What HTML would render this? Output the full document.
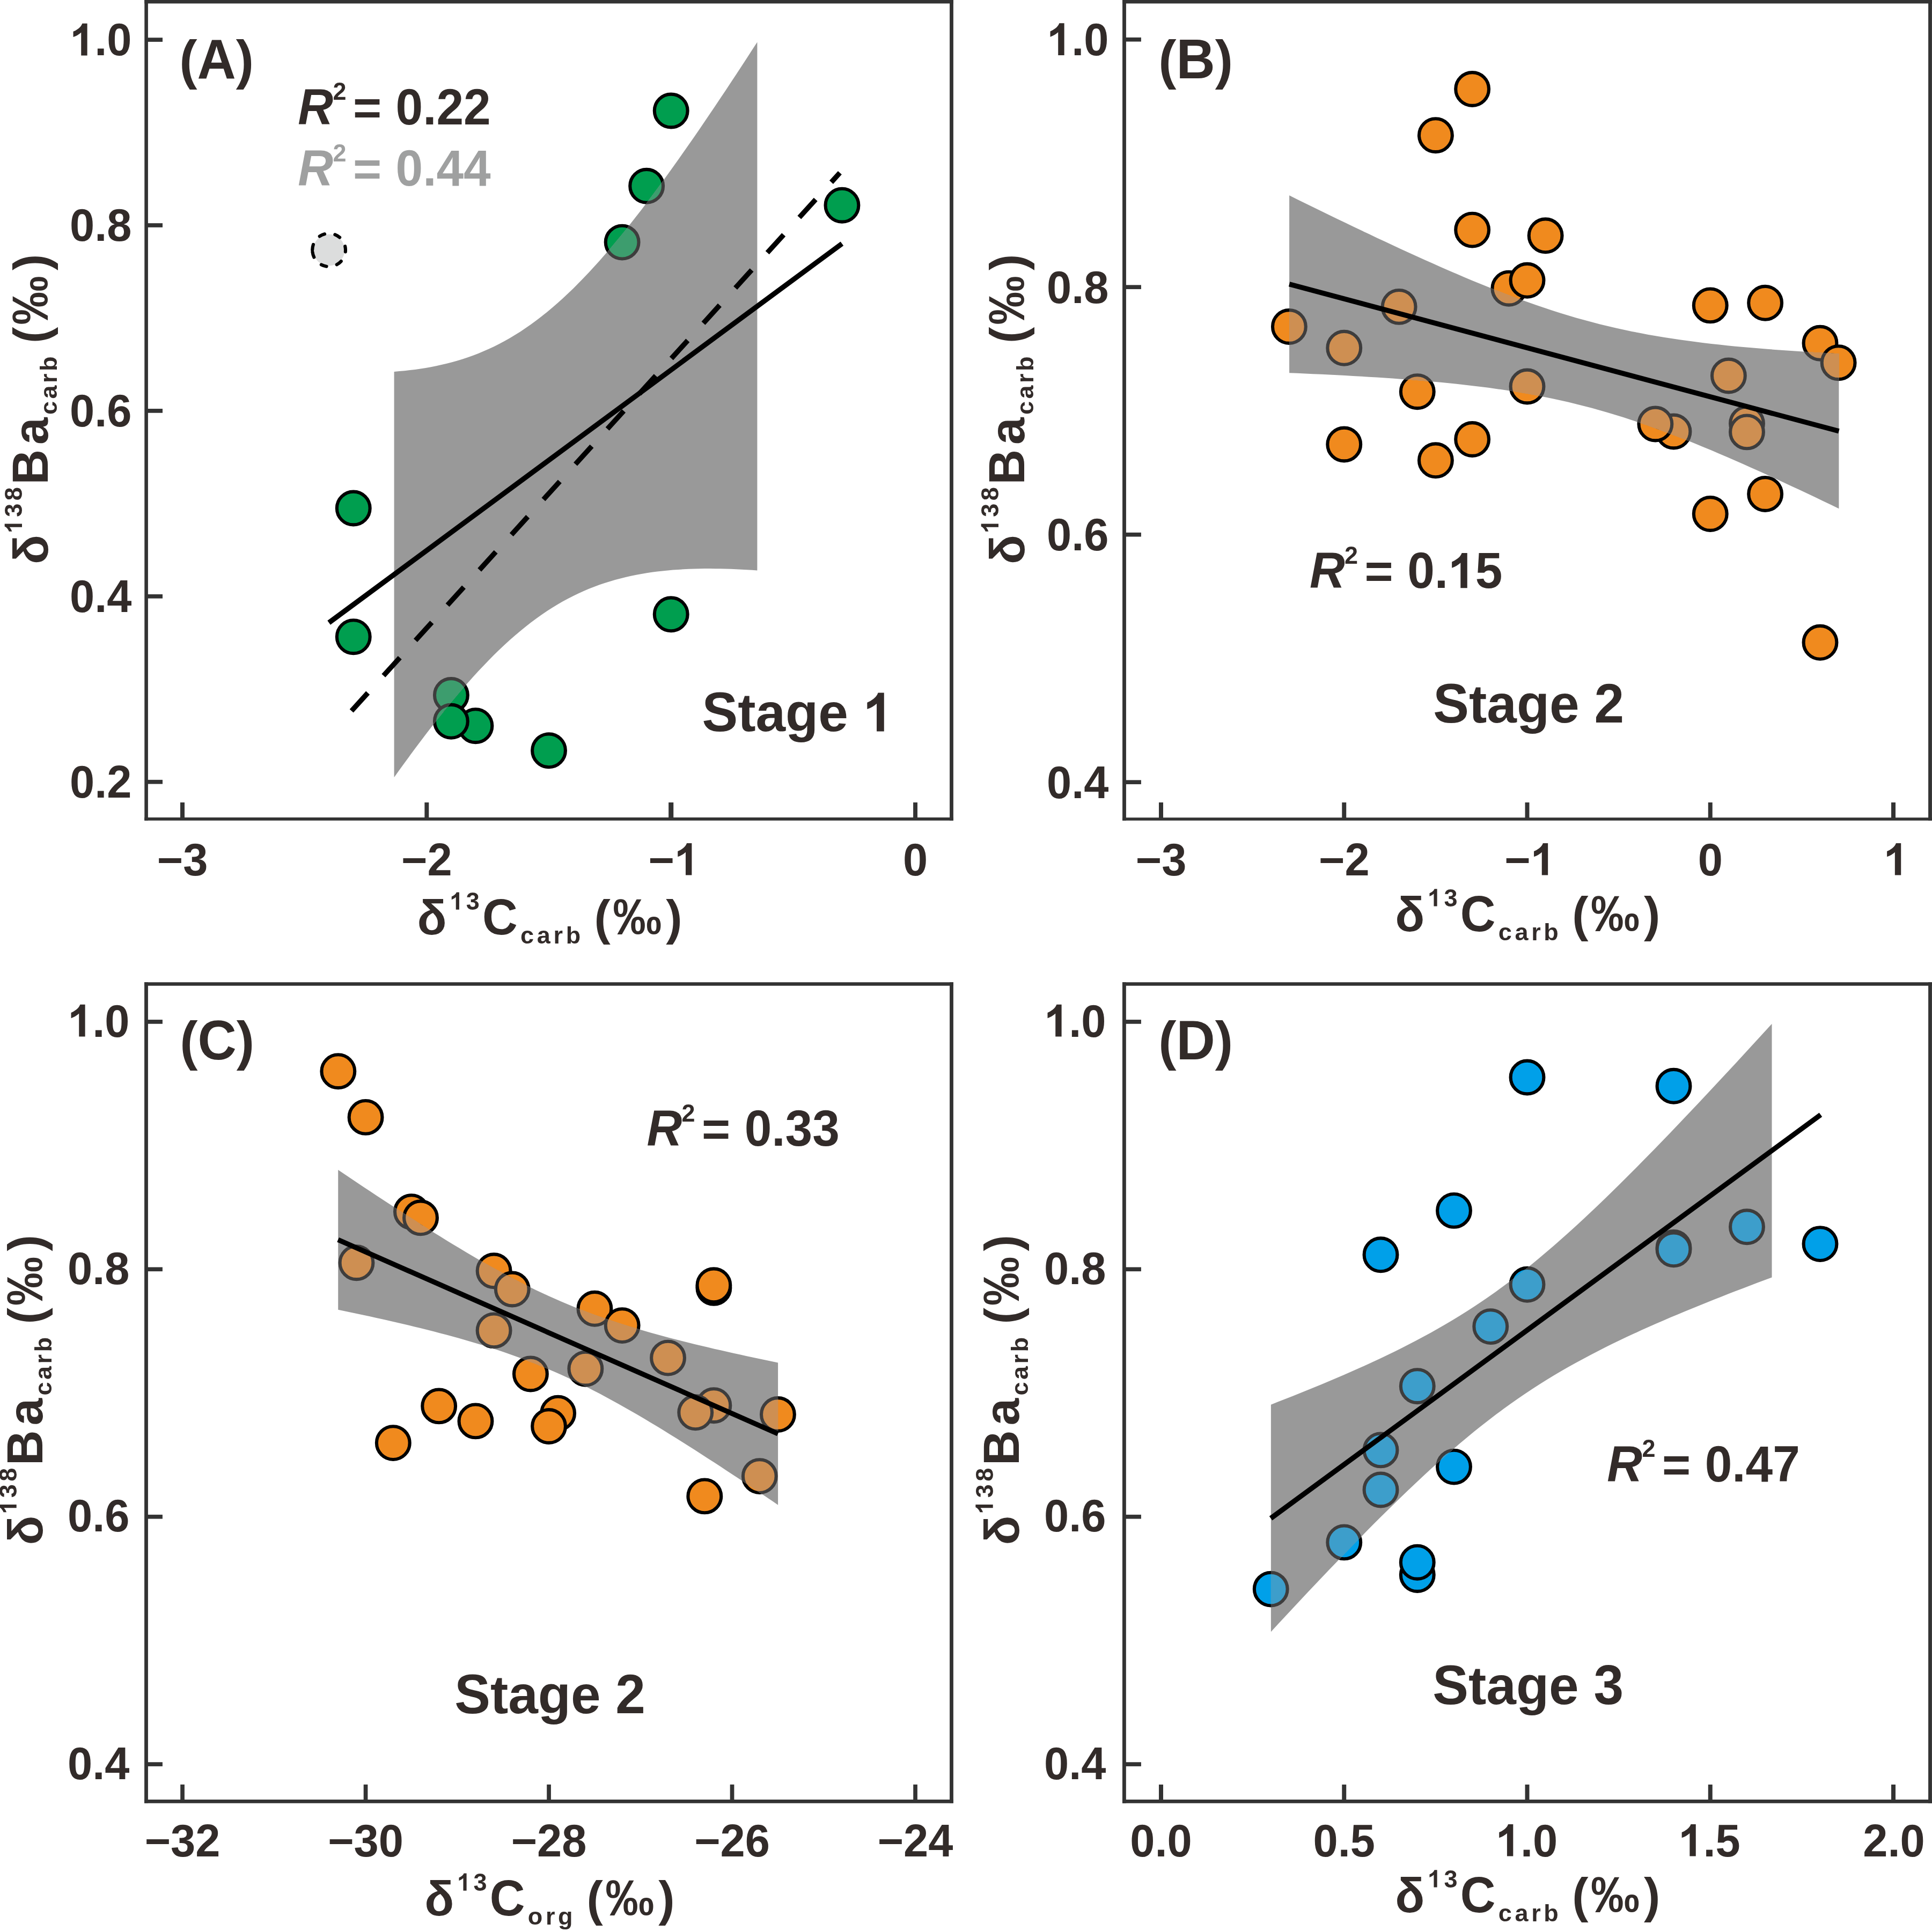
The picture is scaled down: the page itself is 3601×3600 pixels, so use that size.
<!DOCTYPE html>
<html><head><meta charset="utf-8"><title>Figure</title>
<style>
html,body{margin:0;padding:0;background:#ffffff;}
svg{display:block;will-change:transform;}
text{font-family:"Liberation Sans",sans-serif;font-weight:bold;font-kerning:none;}
</style></head><body>
<svg width="3601" height="3600" viewBox="0 0 3601 3600">
<rect width="3601" height="3600" fill="#ffffff"/>
<line x1="340" y1="1526.9" x2="340" y2="1496" stroke="#333333" stroke-width="7.95"/>
<text transform="translate(0 1631.6) scale(1 1.03)" x="341.16" y="0" font-size="83" fill="#322b29">3</text>
<text x="292.68" y="1631.6" font-size="83" fill="#322b29">−</text>
<line x1="795.35" y1="1526.9" x2="795.35" y2="1496" stroke="#333333" stroke-width="7.95"/>
<text transform="translate(0 1631.6) scale(1 1.03)" x="796.51" y="0" font-size="83" fill="#322b29">2</text>
<text x="748.03" y="1631.6" font-size="83" fill="#322b29">−</text>
<line x1="1250.7" y1="1526.9" x2="1250.7" y2="1496" stroke="#333333" stroke-width="9.1"/>
<path transform="translate(1256.86 1631.6) scale(0.04053 -0.04053)" d="M802 0H521V1059Q367 915 158 846V1101Q268 1137 397 1237Q526 1338 574 1472H802Z" fill="#322b29"/>
<text x="1208.38" y="1631.6" font-size="83" fill="#322b29">−</text>
<line x1="1706.05" y1="1526.9" x2="1706.05" y2="1496" stroke="#333333" stroke-width="7.95"/>
<text transform="translate(0 1631.6) scale(1 1.03)" x="1682.97" y="0" font-size="83" fill="#322b29">0</text>
<line x1="272.6" y1="74.1" x2="303" y2="74.1" stroke="#333333" stroke-width="7.7"/>
<path transform="translate(130.12 103.4) scale(0.04053 -0.04053)" d="M802 0H521V1059Q367 915 158 846V1101Q268 1137 397 1237Q526 1338 574 1472H802Z" fill="#322b29"/>
<text transform="translate(0 103.4) scale(1 1.03)" x="199.34" y="0" font-size="83" fill="#322b29">0</text>
<text x="176.28" y="103.4" font-size="83" fill="#322b29">.</text>
<line x1="272.6" y1="420" x2="303" y2="420" stroke="#333333" stroke-width="7.7"/>
<text transform="translate(0 449.3) scale(1 1.03)" x="130.12 199.34" y="0" font-size="83" fill="#322b29">08</text>
<text x="176.28" y="449.3" font-size="83" fill="#322b29">.</text>
<line x1="272.6" y1="765.9" x2="303" y2="765.9" stroke="#333333" stroke-width="7.7"/>
<text transform="translate(0 795.2) scale(1 1.03)" x="130.12 199.34" y="0" font-size="83" fill="#322b29">06</text>
<text x="176.28" y="795.2" font-size="83" fill="#322b29">.</text>
<line x1="272.6" y1="1111.8" x2="303" y2="1111.8" stroke="#333333" stroke-width="7.7"/>
<text transform="translate(0 1141.1) scale(1 1.03)" x="130.12 199.34" y="0" font-size="83" fill="#322b29">04</text>
<text x="176.28" y="1141.1" font-size="83" fill="#322b29">.</text>
<line x1="272.6" y1="1457.7" x2="303" y2="1457.7" stroke="#333333" stroke-width="7.7"/>
<text transform="translate(0 1487) scale(1 1.03)" x="130.12 199.34" y="0" font-size="83" fill="#322b29">02</text>
<text x="176.28" y="1487" font-size="83" fill="#322b29">.</text>
<line x1="272.6" y1="0" x2="272.6" y2="1529.85" stroke="#333333" stroke-width="6.6"/>
<line x1="1773.5" y1="0" x2="1773.5" y2="1529.85" stroke="#333333" stroke-width="6.84"/>
<line x1="269.3" y1="3.3" x2="1776.92" y2="3.3" stroke="#333333" stroke-width="6.6"/>
<line x1="269.3" y1="1526.9" x2="1776.92" y2="1526.9" stroke="#333333" stroke-width="5.9"/>
<g fill="#009e4f" stroke="#000" stroke-width="6.1"><circle cx="1250.7" cy="206.5" r="30.9"/><circle cx="1205.16" cy="346.8" r="30.9"/><circle cx="1159.63" cy="451.6" r="30.9"/><circle cx="1569.44" cy="382.7" r="30.9"/><circle cx="658.74" cy="947.5" r="30.9"/><circle cx="658.74" cy="1187.2" r="30.9"/><circle cx="1250.7" cy="1145.3" r="30.9"/><circle cx="840.88" cy="1296" r="30.9"/><circle cx="886.42" cy="1353.2" r="30.9"/><circle cx="840.88" cy="1344.8" r="30.9"/><circle cx="1023.02" cy="1399.3" r="30.9"/></g>
<path d="M734.6 692.91 L744.41 692.12 L754.22 691.19 L764.03 690.11 L773.83 688.88 L783.64 687.48 L793.45 685.92 L803.26 684.18 L813.07 682.25 L822.88 680.12 L832.69 677.79 L842.5 675.24 L852.3 672.47 L862.11 669.46 L871.92 666.2 L881.73 662.69 L891.54 658.92 L901.35 654.87 L911.16 650.53 L920.97 645.91 L930.77 640.98 L940.58 635.75 L950.39 630.2 L960.2 624.33 L970.01 618.14 L979.82 611.62 L989.63 604.77 L999.43 597.59 L1009.24 590.07 L1019.05 582.22 L1028.86 574.05 L1038.67 565.54 L1048.48 556.72 L1058.29 547.58 L1068.1 538.13 L1077.9 528.37 L1087.71 518.32 L1097.52 507.98 L1107.33 497.37 L1117.14 486.49 L1126.95 475.34 L1136.76 463.95 L1146.57 452.32 L1156.37 440.46 L1166.18 428.38 L1175.99 416.09 L1185.8 403.59 L1195.61 390.91 L1205.42 378.05 L1215.23 365.01 L1225.03 351.8 L1234.84 338.44 L1244.65 324.93 L1254.46 311.28 L1264.27 297.5 L1274.08 283.58 L1283.89 269.55 L1293.7 255.4 L1303.5 241.14 L1313.31 226.77 L1323.12 212.31 L1332.93 197.76 L1342.74 183.11 L1352.55 168.38 L1362.36 153.57 L1372.17 138.69 L1381.97 123.73 L1391.78 108.7 L1401.59 93.61 L1411.4 78.45 L1411.4 1063.47 L1401.59 1062.81 L1391.78 1062.22 L1381.97 1061.69 L1372.17 1061.22 L1362.36 1060.84 L1352.55 1060.52 L1342.74 1060.29 L1332.93 1060.14 L1323.12 1060.08 L1313.31 1060.12 L1303.5 1060.25 L1293.7 1060.49 L1283.89 1060.84 L1274.08 1061.3 L1264.27 1061.88 L1254.46 1062.59 L1244.65 1063.44 L1234.84 1064.43 L1225.03 1065.56 L1215.23 1066.86 L1205.42 1068.32 L1195.61 1069.95 L1185.8 1071.76 L1175.99 1073.77 L1166.18 1075.97 L1156.37 1078.39 L1146.57 1081.03 L1136.76 1083.89 L1126.95 1087 L1117.14 1090.35 L1107.33 1093.96 L1097.52 1097.85 L1087.71 1102.01 L1077.9 1106.45 L1068.1 1111.2 L1058.29 1116.24 L1048.48 1121.6 L1038.67 1127.27 L1028.86 1133.26 L1019.05 1139.58 L1009.24 1146.23 L999.43 1153.22 L989.63 1160.53 L979.82 1168.18 L970.01 1176.15 L960.2 1184.46 L950.39 1193.09 L940.58 1202.04 L930.77 1211.3 L920.97 1220.87 L911.16 1230.74 L901.35 1240.91 L891.54 1251.35 L881.73 1262.08 L871.92 1273.06 L862.11 1284.3 L852.3 1295.79 L842.5 1307.51 L832.69 1319.46 L822.88 1331.63 L813.07 1344 L803.26 1356.56 L793.45 1369.32 L783.64 1382.25 L773.83 1395.36 L764.03 1408.62 L754.22 1422.04 L744.41 1435.61 L734.6 1449.32Z" fill="#999999"/>
<clipPath id="cA"><path d="M734.6 692.91 L744.41 692.12 L754.22 691.19 L764.03 690.11 L773.83 688.88 L783.64 687.48 L793.45 685.92 L803.26 684.18 L813.07 682.25 L822.88 680.12 L832.69 677.79 L842.5 675.24 L852.3 672.47 L862.11 669.46 L871.92 666.2 L881.73 662.69 L891.54 658.92 L901.35 654.87 L911.16 650.53 L920.97 645.91 L930.77 640.98 L940.58 635.75 L950.39 630.2 L960.2 624.33 L970.01 618.14 L979.82 611.62 L989.63 604.77 L999.43 597.59 L1009.24 590.07 L1019.05 582.22 L1028.86 574.05 L1038.67 565.54 L1048.48 556.72 L1058.29 547.58 L1068.1 538.13 L1077.9 528.37 L1087.71 518.32 L1097.52 507.98 L1107.33 497.37 L1117.14 486.49 L1126.95 475.34 L1136.76 463.95 L1146.57 452.32 L1156.37 440.46 L1166.18 428.38 L1175.99 416.09 L1185.8 403.59 L1195.61 390.91 L1205.42 378.05 L1215.23 365.01 L1225.03 351.8 L1234.84 338.44 L1244.65 324.93 L1254.46 311.28 L1264.27 297.5 L1274.08 283.58 L1283.89 269.55 L1293.7 255.4 L1303.5 241.14 L1313.31 226.77 L1323.12 212.31 L1332.93 197.76 L1342.74 183.11 L1352.55 168.38 L1362.36 153.57 L1372.17 138.69 L1381.97 123.73 L1391.78 108.7 L1401.59 93.61 L1411.4 78.45 L1411.4 1063.47 L1401.59 1062.81 L1391.78 1062.22 L1381.97 1061.69 L1372.17 1061.22 L1362.36 1060.84 L1352.55 1060.52 L1342.74 1060.29 L1332.93 1060.14 L1323.12 1060.08 L1313.31 1060.12 L1303.5 1060.25 L1293.7 1060.49 L1283.89 1060.84 L1274.08 1061.3 L1264.27 1061.88 L1254.46 1062.59 L1244.65 1063.44 L1234.84 1064.43 L1225.03 1065.56 L1215.23 1066.86 L1205.42 1068.32 L1195.61 1069.95 L1185.8 1071.76 L1175.99 1073.77 L1166.18 1075.97 L1156.37 1078.39 L1146.57 1081.03 L1136.76 1083.89 L1126.95 1087 L1117.14 1090.35 L1107.33 1093.96 L1097.52 1097.85 L1087.71 1102.01 L1077.9 1106.45 L1068.1 1111.2 L1058.29 1116.24 L1048.48 1121.6 L1038.67 1127.27 L1028.86 1133.26 L1019.05 1139.58 L1009.24 1146.23 L999.43 1153.22 L989.63 1160.53 L979.82 1168.18 L970.01 1176.15 L960.2 1184.46 L950.39 1193.09 L940.58 1202.04 L930.77 1211.3 L920.97 1220.87 L911.16 1230.74 L901.35 1240.91 L891.54 1251.35 L881.73 1262.08 L871.92 1273.06 L862.11 1284.3 L852.3 1295.79 L842.5 1307.51 L832.69 1319.46 L822.88 1331.63 L813.07 1344 L803.26 1356.56 L793.45 1369.32 L783.64 1382.25 L773.83 1395.36 L764.03 1408.62 L754.22 1422.04 L744.41 1435.61 L734.6 1449.32Z"/></clipPath>
<g clip-path="url(#cA)" fill="#3d9d6e" stroke="#3e3d3d" stroke-width="6.1"><circle cx="1250.7" cy="206.5" r="30.9"/><circle cx="1205.16" cy="346.8" r="30.9"/><circle cx="1159.63" cy="451.6" r="30.9"/><circle cx="1569.44" cy="382.7" r="30.9"/><circle cx="658.74" cy="947.5" r="30.9"/><circle cx="658.74" cy="1187.2" r="30.9"/><circle cx="1250.7" cy="1145.3" r="30.9"/><circle cx="840.88" cy="1296" r="30.9"/><circle cx="886.42" cy="1353.2" r="30.9"/><circle cx="840.88" cy="1344.8" r="30.9"/><circle cx="1023.02" cy="1399.3" r="30.9"/></g>
<line x1="613.1" y1="1160.9" x2="1569.4" y2="454.2" stroke="#000" stroke-width="9.4"/>
<line x1="655.2" y1="1325.3" x2="1565.4" y2="322.2" stroke="#000" stroke-width="9.4" stroke-dasharray="45.3 43.42"/>
<circle cx="613.1" cy="466.1" r="29.4" fill="#dcdddd"/>
<path d="M582.2 466.1 A30.9 30.9 0 1 1 644 466.1 A30.9 30.9 0 1 1 582.2 466.1" fill="none" stroke="#000" stroke-width="6.1" stroke-linecap="round" stroke-dasharray="10.3 19.68"/>
<line x1="2164" y1="1527" x2="2164" y2="1496" stroke="#333333" stroke-width="7.95"/>
<text transform="translate(0 1631.6) scale(1 1.03)" x="2165.16" y="0" font-size="83" fill="#322b29">3</text>
<text x="2116.68" y="1631.6" font-size="83" fill="#322b29">−</text>
<line x1="2505.25" y1="1527" x2="2505.25" y2="1496" stroke="#333333" stroke-width="7.95"/>
<text transform="translate(0 1631.6) scale(1 1.03)" x="2506.41" y="0" font-size="83" fill="#322b29">2</text>
<text x="2457.93" y="1631.6" font-size="83" fill="#322b29">−</text>
<line x1="2846.5" y1="1527" x2="2846.5" y2="1496" stroke="#333333" stroke-width="7.95"/>
<path transform="translate(2852.66 1631.6) scale(0.04053 -0.04053)" d="M802 0H521V1059Q367 915 158 846V1101Q268 1137 397 1237Q526 1338 574 1472H802Z" fill="#322b29"/>
<text x="2804.18" y="1631.6" font-size="83" fill="#322b29">−</text>
<line x1="3187.75" y1="1527" x2="3187.75" y2="1496" stroke="#333333" stroke-width="7.95"/>
<text transform="translate(0 1631.6) scale(1 1.03)" x="3164.87" y="0" font-size="83" fill="#322b29">0</text>
<line x1="3529" y1="1527" x2="3529" y2="1496" stroke="#333333" stroke-width="7.95"/>
<path transform="translate(3510.72 1631.6) scale(0.04053 -0.04053)" d="M802 0H521V1059Q367 915 158 846V1101Q268 1137 397 1237Q526 1338 574 1472H802Z" fill="#322b29"/>
<line x1="2095.5" y1="73.7" x2="2126.9" y2="73.7" stroke="#333333" stroke-width="7.7"/>
<path transform="translate(1951.12 103) scale(0.04053 -0.04053)" d="M802 0H521V1059Q367 915 158 846V1101Q268 1137 397 1237Q526 1338 574 1472H802Z" fill="#322b29"/>
<text transform="translate(0 103) scale(1 1.03)" x="2020.34" y="0" font-size="83" fill="#322b29">0</text>
<text x="1997.28" y="103" font-size="83" fill="#322b29">.</text>
<line x1="2095.5" y1="535.2" x2="2126.9" y2="535.2" stroke="#333333" stroke-width="7.7"/>
<text transform="translate(0 564.5) scale(1 1.03)" x="1951.12 2020.34" y="0" font-size="83" fill="#322b29">08</text>
<text x="1997.28" y="564.5" font-size="83" fill="#322b29">.</text>
<line x1="2095.5" y1="996.7" x2="2126.9" y2="996.7" stroke="#333333" stroke-width="7.7"/>
<text transform="translate(0 1026) scale(1 1.03)" x="1951.12 2020.34" y="0" font-size="83" fill="#322b29">06</text>
<text x="1997.28" y="1026" font-size="83" fill="#322b29">.</text>
<line x1="2095.5" y1="1458.2" x2="2126.9" y2="1458.2" stroke="#333333" stroke-width="7.7"/>
<text transform="translate(0 1487.5) scale(1 1.03)" x="1951.12 2020.34" y="0" font-size="83" fill="#322b29">04</text>
<text x="1997.28" y="1487.5" font-size="83" fill="#322b29">.</text>
<line x1="2095.5" y1="0" x2="2095.5" y2="1529.85" stroke="#333333" stroke-width="6.84"/>
<line x1="3597.5" y1="0" x2="3597.5" y2="1529.85" stroke="#333333" stroke-width="6.84"/>
<line x1="2092.08" y1="3.3" x2="3600.92" y2="3.3" stroke="#333333" stroke-width="6.6"/>
<line x1="2092.08" y1="1527" x2="3600.92" y2="1527" stroke="#333333" stroke-width="5.7"/>
<g fill="#f08a1e" stroke="#000" stroke-width="6.1"><circle cx="2744.12" cy="166" r="30.9"/><circle cx="2675.88" cy="252.2" r="30.9"/><circle cx="2744.12" cy="428.6" r="30.9"/><circle cx="2880.62" cy="439.3" r="30.9"/><circle cx="2812.38" cy="537.7" r="30.9"/><circle cx="2846.5" cy="522.8" r="30.9"/><circle cx="3187.75" cy="569.4" r="30.9"/><circle cx="3290.12" cy="564.8" r="30.9"/><circle cx="3392.5" cy="639.8" r="30.9"/><circle cx="3426.62" cy="676.2" r="30.9"/><circle cx="3221.88" cy="700.5" r="30.9"/><circle cx="2846.5" cy="720.5" r="30.9"/><circle cx="3119.5" cy="804.5" r="30.9"/><circle cx="3085.38" cy="790.5" r="30.9"/><circle cx="3256" cy="789.5" r="30.9"/><circle cx="3256" cy="805.4" r="30.9"/><circle cx="2744.12" cy="819" r="30.9"/><circle cx="2675.88" cy="858.3" r="30.9"/><circle cx="2402.88" cy="609" r="30.9"/><circle cx="2505.25" cy="648.8" r="30.9"/><circle cx="2607.62" cy="571.9" r="30.9"/><circle cx="2641.75" cy="730.2" r="30.9"/><circle cx="2505.25" cy="828.5" r="30.9"/><circle cx="3187.75" cy="958" r="30.9"/><circle cx="3290.12" cy="921" r="30.9"/><circle cx="3392.5" cy="1197.8" r="30.9"/></g>
<path d="M2403.1 364.37 L2417.94 371.68 L2432.79 378.98 L2447.63 386.26 L2462.48 393.5 L2477.32 400.73 L2492.17 407.92 L2507.01 415.08 L2521.86 422.21 L2536.7 429.31 L2551.55 436.36 L2566.39 443.38 L2581.24 450.35 L2596.08 457.28 L2610.93 464.16 L2625.77 470.99 L2640.62 477.75 L2655.46 484.46 L2670.31 491.1 L2685.15 497.67 L2700 504.17 L2714.84 510.58 L2729.69 516.91 L2744.53 523.14 L2759.38 529.27 L2774.22 535.29 L2789.07 541.2 L2803.91 546.99 L2818.76 552.64 L2833.6 558.16 L2848.45 563.54 L2863.29 568.76 L2878.14 573.83 L2892.98 578.73 L2907.83 583.46 L2922.67 588.01 L2937.52 592.38 L2952.36 596.57 L2967.21 600.58 L2982.05 604.41 L2996.9 608.05 L3011.74 611.51 L3026.59 614.79 L3041.43 617.9 L3056.28 620.85 L3071.12 623.63 L3085.97 626.26 L3100.81 628.73 L3115.66 631.07 L3130.5 633.28 L3145.35 635.36 L3160.19 637.33 L3175.04 639.18 L3189.88 640.93 L3204.73 642.58 L3219.57 644.15 L3234.42 645.63 L3249.26 647.03 L3264.11 648.36 L3278.95 649.62 L3293.8 650.82 L3308.64 651.95 L3323.49 653.04 L3338.33 654.07 L3353.18 655.06 L3368.02 656 L3382.87 656.9 L3397.71 657.76 L3412.56 658.59 L3427.4 659.38 L3427.4 948.22 L3412.56 941.07 L3397.71 933.95 L3382.87 926.87 L3368.02 919.83 L3353.18 912.83 L3338.33 905.88 L3323.49 898.97 L3308.64 892.11 L3293.8 885.31 L3278.95 878.56 L3264.11 871.88 L3249.26 865.27 L3234.42 858.73 L3219.57 852.26 L3204.73 845.89 L3189.88 839.6 L3175.04 833.41 L3160.19 827.32 L3145.35 821.34 L3130.5 815.48 L3115.66 809.74 L3100.81 804.14 L3085.97 798.68 L3071.12 793.36 L3056.28 788.2 L3041.43 783.2 L3026.59 778.37 L3011.74 773.71 L2996.9 769.23 L2982.05 764.93 L2967.21 760.81 L2952.36 756.88 L2937.52 753.13 L2922.67 749.56 L2907.83 746.17 L2892.98 742.96 L2878.14 739.92 L2863.29 737.04 L2848.45 734.32 L2833.6 731.75 L2818.76 729.33 L2803.91 727.05 L2789.07 724.89 L2774.22 722.86 L2759.38 720.94 L2744.53 719.13 L2729.69 717.42 L2714.84 715.8 L2700 714.27 L2685.15 712.82 L2670.31 711.45 L2655.46 710.15 L2640.62 708.92 L2625.77 707.74 L2610.93 706.63 L2596.08 705.56 L2581.24 704.55 L2566.39 703.58 L2551.55 702.66 L2536.7 701.77 L2521.86 700.93 L2507.01 700.11 L2492.17 699.33 L2477.32 698.58 L2462.48 697.86 L2447.63 697.17 L2432.79 696.5 L2417.94 695.86 L2403.1 695.23Z" fill="#999999"/>
<clipPath id="cB"><path d="M2403.1 364.37 L2417.94 371.68 L2432.79 378.98 L2447.63 386.26 L2462.48 393.5 L2477.32 400.73 L2492.17 407.92 L2507.01 415.08 L2521.86 422.21 L2536.7 429.31 L2551.55 436.36 L2566.39 443.38 L2581.24 450.35 L2596.08 457.28 L2610.93 464.16 L2625.77 470.99 L2640.62 477.75 L2655.46 484.46 L2670.31 491.1 L2685.15 497.67 L2700 504.17 L2714.84 510.58 L2729.69 516.91 L2744.53 523.14 L2759.38 529.27 L2774.22 535.29 L2789.07 541.2 L2803.91 546.99 L2818.76 552.64 L2833.6 558.16 L2848.45 563.54 L2863.29 568.76 L2878.14 573.83 L2892.98 578.73 L2907.83 583.46 L2922.67 588.01 L2937.52 592.38 L2952.36 596.57 L2967.21 600.58 L2982.05 604.41 L2996.9 608.05 L3011.74 611.51 L3026.59 614.79 L3041.43 617.9 L3056.28 620.85 L3071.12 623.63 L3085.97 626.26 L3100.81 628.73 L3115.66 631.07 L3130.5 633.28 L3145.35 635.36 L3160.19 637.33 L3175.04 639.18 L3189.88 640.93 L3204.73 642.58 L3219.57 644.15 L3234.42 645.63 L3249.26 647.03 L3264.11 648.36 L3278.95 649.62 L3293.8 650.82 L3308.64 651.95 L3323.49 653.04 L3338.33 654.07 L3353.18 655.06 L3368.02 656 L3382.87 656.9 L3397.71 657.76 L3412.56 658.59 L3427.4 659.38 L3427.4 948.22 L3412.56 941.07 L3397.71 933.95 L3382.87 926.87 L3368.02 919.83 L3353.18 912.83 L3338.33 905.88 L3323.49 898.97 L3308.64 892.11 L3293.8 885.31 L3278.95 878.56 L3264.11 871.88 L3249.26 865.27 L3234.42 858.73 L3219.57 852.26 L3204.73 845.89 L3189.88 839.6 L3175.04 833.41 L3160.19 827.32 L3145.35 821.34 L3130.5 815.48 L3115.66 809.74 L3100.81 804.14 L3085.97 798.68 L3071.12 793.36 L3056.28 788.2 L3041.43 783.2 L3026.59 778.37 L3011.74 773.71 L2996.9 769.23 L2982.05 764.93 L2967.21 760.81 L2952.36 756.88 L2937.52 753.13 L2922.67 749.56 L2907.83 746.17 L2892.98 742.96 L2878.14 739.92 L2863.29 737.04 L2848.45 734.32 L2833.6 731.75 L2818.76 729.33 L2803.91 727.05 L2789.07 724.89 L2774.22 722.86 L2759.38 720.94 L2744.53 719.13 L2729.69 717.42 L2714.84 715.8 L2700 714.27 L2685.15 712.82 L2670.31 711.45 L2655.46 710.15 L2640.62 708.92 L2625.77 707.74 L2610.93 706.63 L2596.08 705.56 L2581.24 704.55 L2566.39 703.58 L2551.55 702.66 L2536.7 701.77 L2521.86 700.93 L2507.01 700.11 L2492.17 699.33 L2477.32 698.58 L2462.48 697.86 L2447.63 697.17 L2432.79 696.5 L2417.94 695.86 L2403.1 695.23Z"/></clipPath>
<g clip-path="url(#cB)" fill="#ce8f52" stroke="#3e3d3d" stroke-width="6.1"><circle cx="2744.12" cy="166" r="30.9"/><circle cx="2675.88" cy="252.2" r="30.9"/><circle cx="2744.12" cy="428.6" r="30.9"/><circle cx="2880.62" cy="439.3" r="30.9"/><circle cx="2812.38" cy="537.7" r="30.9"/><circle cx="2846.5" cy="522.8" r="30.9"/><circle cx="3187.75" cy="569.4" r="30.9"/><circle cx="3290.12" cy="564.8" r="30.9"/><circle cx="3392.5" cy="639.8" r="30.9"/><circle cx="3426.62" cy="676.2" r="30.9"/><circle cx="3221.88" cy="700.5" r="30.9"/><circle cx="2846.5" cy="720.5" r="30.9"/><circle cx="3119.5" cy="804.5" r="30.9"/><circle cx="3085.38" cy="790.5" r="30.9"/><circle cx="3256" cy="789.5" r="30.9"/><circle cx="3256" cy="805.4" r="30.9"/><circle cx="2744.12" cy="819" r="30.9"/><circle cx="2675.88" cy="858.3" r="30.9"/><circle cx="2402.88" cy="609" r="30.9"/><circle cx="2505.25" cy="648.8" r="30.9"/><circle cx="2607.62" cy="571.9" r="30.9"/><circle cx="2641.75" cy="730.2" r="30.9"/><circle cx="2505.25" cy="828.5" r="30.9"/><circle cx="3187.75" cy="958" r="30.9"/><circle cx="3290.12" cy="921" r="30.9"/><circle cx="3392.5" cy="1197.8" r="30.9"/></g>
<line x1="2403.1" y1="529.8" x2="3427.4" y2="803.8" stroke="#000" stroke-width="9.4"/>
<line x1="340.05" y1="3358.3" x2="340.05" y2="3326.9" stroke="#333333" stroke-width="7.7"/>
<text transform="translate(0 3460.6) scale(1 1.03)" x="318.12 364.29" y="0" font-size="83" fill="#322b29">32</text>
<text x="269.65" y="3460.6" font-size="83" fill="#322b29">−</text>
<line x1="681.55" y1="3358.3" x2="681.55" y2="3326.9" stroke="#333333" stroke-width="7.7"/>
<text transform="translate(0 3460.6) scale(1 1.03)" x="659.62 705.79" y="0" font-size="83" fill="#322b29">30</text>
<text x="611.15" y="3460.6" font-size="83" fill="#322b29">−</text>
<line x1="1023.05" y1="3358.3" x2="1023.05" y2="3326.9" stroke="#333333" stroke-width="7.7"/>
<text transform="translate(0 3460.6) scale(1 1.03)" x="1001.12 1047.29" y="0" font-size="83" fill="#322b29">28</text>
<text x="952.65" y="3460.6" font-size="83" fill="#322b29">−</text>
<line x1="1364.55" y1="3358.3" x2="1364.55" y2="3326.9" stroke="#333333" stroke-width="7.7"/>
<text transform="translate(0 3460.6) scale(1 1.03)" x="1342.62 1388.79" y="0" font-size="83" fill="#322b29">26</text>
<text x="1294.15" y="3460.6" font-size="83" fill="#322b29">−</text>
<line x1="1706.05" y1="3358.3" x2="1706.05" y2="3326.9" stroke="#333333" stroke-width="7.7"/>
<text transform="translate(0 3460.6) scale(1 1.03)" x="1684.12 1730.29" y="0" font-size="83" fill="#322b29">24</text>
<text x="1635.65" y="3460.6" font-size="83" fill="#322b29">−</text>
<line x1="272.5" y1="1904.9" x2="302.9" y2="1904.9" stroke="#333333" stroke-width="7.7"/>
<path transform="translate(126.12 1932.5) scale(0.04053 -0.04053)" d="M802 0H521V1059Q367 915 158 846V1101Q268 1137 397 1237Q526 1338 574 1472H802Z" fill="#322b29"/>
<text transform="translate(0 1932.5) scale(1 1.03)" x="195.34" y="0" font-size="83" fill="#322b29">0</text>
<text x="172.28" y="1932.5" font-size="83" fill="#322b29">.</text>
<line x1="272.5" y1="2366.3" x2="302.9" y2="2366.3" stroke="#333333" stroke-width="7.7"/>
<text transform="translate(0 2393.9) scale(1 1.03)" x="126.12 195.34" y="0" font-size="83" fill="#322b29">08</text>
<text x="172.28" y="2393.9" font-size="83" fill="#322b29">.</text>
<line x1="272.5" y1="2827.7" x2="302.9" y2="2827.7" stroke="#333333" stroke-width="7.7"/>
<text transform="translate(0 2855.3) scale(1 1.03)" x="126.12 195.34" y="0" font-size="83" fill="#322b29">06</text>
<text x="172.28" y="2855.3" font-size="83" fill="#322b29">.</text>
<line x1="272.5" y1="3289.1" x2="302.9" y2="3289.1" stroke="#333333" stroke-width="7.7"/>
<text transform="translate(0 3316.7) scale(1 1.03)" x="126.12 195.34" y="0" font-size="83" fill="#322b29">04</text>
<text x="172.28" y="3316.7" font-size="83" fill="#322b29">.</text>
<line x1="272.5" y1="1831.15" x2="272.5" y2="3361.62" stroke="#333333" stroke-width="6.84"/>
<line x1="1773.5" y1="1831.15" x2="1773.5" y2="3361.62" stroke="#333333" stroke-width="6.84"/>
<line x1="269.08" y1="1834.4" x2="1776.92" y2="1834.4" stroke="#333333" stroke-width="6.5"/>
<line x1="269.08" y1="3358.3" x2="1776.92" y2="3358.3" stroke="#333333" stroke-width="6.65"/>
<g fill="#f08a1e" stroke="#000" stroke-width="6.1"><circle cx="630.32" cy="1997.2" r="30.9"/><circle cx="681.55" cy="2082.9" r="30.9"/><circle cx="766.92" cy="2259.1" r="30.9"/><circle cx="784" cy="2270.3" r="30.9"/><circle cx="664.47" cy="2354.2" r="30.9"/><circle cx="818.15" cy="2621.4" r="30.9"/><circle cx="886.45" cy="2649.4" r="30.9"/><circle cx="732.78" cy="2690.1" r="30.9"/><circle cx="920.6" cy="2369.3" r="30.9"/><circle cx="954.75" cy="2403.5" r="30.9"/><circle cx="1108.42" cy="2439.8" r="30.9"/><circle cx="1159.65" cy="2471.1" r="30.9"/><circle cx="1330.4" cy="2400.9" r="30.9"/><circle cx="1330.4" cy="2396.3" r="30.9"/><circle cx="920.6" cy="2480.4" r="30.9"/><circle cx="1245.03" cy="2531.6" r="30.9"/><circle cx="1091.35" cy="2551.7" r="30.9"/><circle cx="988.9" cy="2561.5" r="30.9"/><circle cx="1330.4" cy="2620.2" r="30.9"/><circle cx="1296.25" cy="2633.3" r="30.9"/><circle cx="1449.92" cy="2637" r="30.9"/><circle cx="1040.13" cy="2634.7" r="30.9"/><circle cx="1023.05" cy="2659" r="30.9"/><circle cx="1313.32" cy="2789.4" r="30.9"/><circle cx="1415.78" cy="2752.1" r="30.9"/></g>
<path d="M630.2 2181.01 L642.08 2189.01 L653.97 2197 L665.85 2204.95 L677.73 2212.88 L689.61 2220.78 L701.5 2228.65 L713.38 2236.49 L725.26 2244.29 L737.14 2252.05 L749.03 2259.77 L760.91 2267.45 L772.79 2275.08 L784.67 2282.66 L796.56 2290.18 L808.44 2297.65 L820.32 2305.06 L832.2 2312.39 L844.09 2319.66 L855.97 2326.84 L867.85 2333.95 L879.73 2340.96 L891.62 2347.88 L903.5 2354.7 L915.38 2361.41 L927.27 2368.01 L939.15 2374.49 L951.03 2380.84 L962.91 2387.06 L974.8 2393.14 L986.68 2399.08 L998.56 2404.88 L1010.44 2410.52 L1022.33 2416.01 L1034.21 2421.34 L1046.09 2426.52 L1057.97 2431.55 L1069.86 2436.42 L1081.74 2441.14 L1093.62 2445.71 L1105.5 2450.14 L1117.39 2454.43 L1129.27 2458.58 L1141.15 2462.61 L1153.03 2466.52 L1164.92 2470.32 L1176.8 2474 L1188.68 2477.58 L1200.57 2481.07 L1212.45 2484.47 L1224.33 2487.78 L1236.21 2491.01 L1248.1 2494.17 L1259.98 2497.27 L1271.86 2500.3 L1283.74 2503.27 L1295.63 2506.18 L1307.51 2509.04 L1319.39 2511.86 L1331.27 2514.63 L1343.16 2517.36 L1355.04 2520.05 L1366.92 2522.7 L1378.8 2525.32 L1390.69 2527.91 L1402.57 2530.47 L1414.45 2533.01 L1426.33 2535.51 L1438.22 2538 L1450.1 2540.46 L1450.1 2805.63 L1438.22 2797.61 L1426.33 2789.61 L1414.45 2781.63 L1402.57 2773.68 L1390.69 2765.75 L1378.8 2757.86 L1366.92 2750 L1355.04 2742.17 L1343.16 2734.37 L1331.27 2726.62 L1319.39 2718.91 L1307.51 2711.24 L1295.63 2703.62 L1283.74 2696.05 L1271.86 2688.53 L1259.98 2681.08 L1248.1 2673.69 L1236.21 2666.36 L1224.33 2659.11 L1212.45 2651.94 L1200.57 2644.85 L1188.68 2637.86 L1176.8 2630.95 L1164.92 2624.16 L1153.03 2617.47 L1141.15 2610.89 L1129.27 2604.43 L1117.39 2598.11 L1105.5 2591.91 L1093.62 2585.86 L1081.74 2579.95 L1069.86 2574.18 L1057.97 2568.57 L1046.09 2563.11 L1034.21 2557.8 L1022.33 2552.65 L1010.44 2547.66 L998.56 2542.82 L986.68 2538.13 L974.8 2533.58 L962.91 2529.18 L951.03 2524.92 L939.15 2520.78 L927.27 2516.78 L915.38 2512.89 L903.5 2509.12 L891.62 2505.46 L879.73 2501.89 L867.85 2498.42 L855.97 2495.04 L844.09 2491.74 L832.2 2488.52 L820.32 2485.38 L808.44 2482.3 L796.56 2479.28 L784.67 2476.32 L772.79 2473.42 L760.91 2470.56 L749.03 2467.76 L737.14 2464.99 L725.26 2462.27 L713.38 2459.59 L701.5 2456.94 L689.61 2454.33 L677.73 2451.74 L665.85 2449.19 L653.97 2446.66 L642.08 2444.16 L630.2 2441.68Z" fill="#999999"/>
<clipPath id="cC"><path d="M630.2 2181.01 L642.08 2189.01 L653.97 2197 L665.85 2204.95 L677.73 2212.88 L689.61 2220.78 L701.5 2228.65 L713.38 2236.49 L725.26 2244.29 L737.14 2252.05 L749.03 2259.77 L760.91 2267.45 L772.79 2275.08 L784.67 2282.66 L796.56 2290.18 L808.44 2297.65 L820.32 2305.06 L832.2 2312.39 L844.09 2319.66 L855.97 2326.84 L867.85 2333.95 L879.73 2340.96 L891.62 2347.88 L903.5 2354.7 L915.38 2361.41 L927.27 2368.01 L939.15 2374.49 L951.03 2380.84 L962.91 2387.06 L974.8 2393.14 L986.68 2399.08 L998.56 2404.88 L1010.44 2410.52 L1022.33 2416.01 L1034.21 2421.34 L1046.09 2426.52 L1057.97 2431.55 L1069.86 2436.42 L1081.74 2441.14 L1093.62 2445.71 L1105.5 2450.14 L1117.39 2454.43 L1129.27 2458.58 L1141.15 2462.61 L1153.03 2466.52 L1164.92 2470.32 L1176.8 2474 L1188.68 2477.58 L1200.57 2481.07 L1212.45 2484.47 L1224.33 2487.78 L1236.21 2491.01 L1248.1 2494.17 L1259.98 2497.27 L1271.86 2500.3 L1283.74 2503.27 L1295.63 2506.18 L1307.51 2509.04 L1319.39 2511.86 L1331.27 2514.63 L1343.16 2517.36 L1355.04 2520.05 L1366.92 2522.7 L1378.8 2525.32 L1390.69 2527.91 L1402.57 2530.47 L1414.45 2533.01 L1426.33 2535.51 L1438.22 2538 L1450.1 2540.46 L1450.1 2805.63 L1438.22 2797.61 L1426.33 2789.61 L1414.45 2781.63 L1402.57 2773.68 L1390.69 2765.75 L1378.8 2757.86 L1366.92 2750 L1355.04 2742.17 L1343.16 2734.37 L1331.27 2726.62 L1319.39 2718.91 L1307.51 2711.24 L1295.63 2703.62 L1283.74 2696.05 L1271.86 2688.53 L1259.98 2681.08 L1248.1 2673.69 L1236.21 2666.36 L1224.33 2659.11 L1212.45 2651.94 L1200.57 2644.85 L1188.68 2637.86 L1176.8 2630.95 L1164.92 2624.16 L1153.03 2617.47 L1141.15 2610.89 L1129.27 2604.43 L1117.39 2598.11 L1105.5 2591.91 L1093.62 2585.86 L1081.74 2579.95 L1069.86 2574.18 L1057.97 2568.57 L1046.09 2563.11 L1034.21 2557.8 L1022.33 2552.65 L1010.44 2547.66 L998.56 2542.82 L986.68 2538.13 L974.8 2533.58 L962.91 2529.18 L951.03 2524.92 L939.15 2520.78 L927.27 2516.78 L915.38 2512.89 L903.5 2509.12 L891.62 2505.46 L879.73 2501.89 L867.85 2498.42 L855.97 2495.04 L844.09 2491.74 L832.2 2488.52 L820.32 2485.38 L808.44 2482.3 L796.56 2479.28 L784.67 2476.32 L772.79 2473.42 L760.91 2470.56 L749.03 2467.76 L737.14 2464.99 L725.26 2462.27 L713.38 2459.59 L701.5 2456.94 L689.61 2454.33 L677.73 2451.74 L665.85 2449.19 L653.97 2446.66 L642.08 2444.16 L630.2 2441.68Z"/></clipPath>
<g clip-path="url(#cC)" fill="#ce8f52" stroke="#3e3d3d" stroke-width="6.1"><circle cx="630.32" cy="1997.2" r="30.9"/><circle cx="681.55" cy="2082.9" r="30.9"/><circle cx="766.92" cy="2259.1" r="30.9"/><circle cx="784" cy="2270.3" r="30.9"/><circle cx="664.47" cy="2354.2" r="30.9"/><circle cx="818.15" cy="2621.4" r="30.9"/><circle cx="886.45" cy="2649.4" r="30.9"/><circle cx="732.78" cy="2690.1" r="30.9"/><circle cx="920.6" cy="2369.3" r="30.9"/><circle cx="954.75" cy="2403.5" r="30.9"/><circle cx="1108.42" cy="2439.8" r="30.9"/><circle cx="1159.65" cy="2471.1" r="30.9"/><circle cx="1330.4" cy="2400.9" r="30.9"/><circle cx="1330.4" cy="2396.3" r="30.9"/><circle cx="920.6" cy="2480.4" r="30.9"/><circle cx="1245.03" cy="2531.6" r="30.9"/><circle cx="1091.35" cy="2551.7" r="30.9"/><circle cx="988.9" cy="2561.5" r="30.9"/><circle cx="1330.4" cy="2620.2" r="30.9"/><circle cx="1296.25" cy="2633.3" r="30.9"/><circle cx="1449.92" cy="2637" r="30.9"/><circle cx="1040.13" cy="2634.7" r="30.9"/><circle cx="1023.05" cy="2659" r="30.9"/><circle cx="1313.32" cy="2789.4" r="30.9"/><circle cx="1415.78" cy="2752.1" r="30.9"/></g>
<line x1="630.1" y1="2311.3" x2="1450" y2="2673" stroke="#000" stroke-width="9.4"/>
<line x1="2164" y1="3358.4" x2="2164" y2="3327" stroke="#333333" stroke-width="7.95"/>
<text transform="translate(0 3460.6) scale(1 1.03)" x="2106.31 2175.53" y="0" font-size="83" fill="#322b29">00</text>
<text x="2152.47" y="3460.6" font-size="83" fill="#322b29">.</text>
<line x1="2505.25" y1="3358.4" x2="2505.25" y2="3327" stroke="#333333" stroke-width="7.95"/>
<text transform="translate(0 3460.6) scale(1 1.03)" x="2447.56 2516.78" y="0" font-size="83" fill="#322b29">05</text>
<text x="2493.72" y="3460.6" font-size="83" fill="#322b29">.</text>
<line x1="2846.5" y1="3358.4" x2="2846.5" y2="3327" stroke="#333333" stroke-width="7.95"/>
<path transform="translate(2787.81 3460.6) scale(0.04053 -0.04053)" d="M802 0H521V1059Q367 915 158 846V1101Q268 1137 397 1237Q526 1338 574 1472H802Z" fill="#322b29"/>
<text transform="translate(0 3460.6) scale(1 1.03)" x="2857.03" y="0" font-size="83" fill="#322b29">0</text>
<text x="2833.97" y="3460.6" font-size="83" fill="#322b29">.</text>
<line x1="3187.75" y1="3358.4" x2="3187.75" y2="3327" stroke="#333333" stroke-width="7.95"/>
<path transform="translate(3128.26 3460.6) scale(0.04053 -0.04053)" d="M802 0H521V1059Q367 915 158 846V1101Q268 1137 397 1237Q526 1338 574 1472H802Z" fill="#322b29"/>
<text transform="translate(0 3460.6) scale(1 1.03)" x="3197.48" y="0" font-size="83" fill="#322b29">5</text>
<text x="3174.42" y="3460.6" font-size="83" fill="#322b29">.</text>
<line x1="3529" y1="3358.4" x2="3529" y2="3327" stroke="#333333" stroke-width="7.95"/>
<text transform="translate(0 3460.6) scale(1 1.03)" x="3472.31 3541.53" y="0" font-size="83" fill="#322b29">20</text>
<text x="3518.47" y="3460.6" font-size="83" fill="#322b29">.</text>
<line x1="2095.4" y1="1904.9" x2="2126.9" y2="1904.9" stroke="#333333" stroke-width="7.7"/>
<path transform="translate(1946.12 1932.5) scale(0.04053 -0.04053)" d="M802 0H521V1059Q367 915 158 846V1101Q268 1137 397 1237Q526 1338 574 1472H802Z" fill="#322b29"/>
<text transform="translate(0 1932.5) scale(1 1.03)" x="2015.34" y="0" font-size="83" fill="#322b29">0</text>
<text x="1992.28" y="1932.5" font-size="83" fill="#322b29">.</text>
<line x1="2095.4" y1="2366.3" x2="2126.9" y2="2366.3" stroke="#333333" stroke-width="7.7"/>
<text transform="translate(0 2393.9) scale(1 1.03)" x="1946.12 2015.34" y="0" font-size="83" fill="#322b29">08</text>
<text x="1992.28" y="2393.9" font-size="83" fill="#322b29">.</text>
<line x1="2095.4" y1="2827.7" x2="2126.9" y2="2827.7" stroke="#333333" stroke-width="7.7"/>
<text transform="translate(0 2855.3) scale(1 1.03)" x="1946.12 2015.34" y="0" font-size="83" fill="#322b29">06</text>
<text x="1992.28" y="2855.3" font-size="83" fill="#322b29">.</text>
<line x1="2095.4" y1="3289.1" x2="2126.9" y2="3289.1" stroke="#333333" stroke-width="7.7"/>
<text transform="translate(0 3316.7) scale(1 1.03)" x="1946.12 2015.34" y="0" font-size="83" fill="#322b29">04</text>
<text x="1992.28" y="3316.7" font-size="83" fill="#322b29">.</text>
<line x1="2095.4" y1="1831.15" x2="2095.4" y2="3361.75" stroke="#333333" stroke-width="6.84"/>
<line x1="3597.5" y1="1831.15" x2="3597.5" y2="3361.75" stroke="#333333" stroke-width="6.84"/>
<line x1="2091.98" y1="1834.4" x2="3600.92" y2="1834.4" stroke="#333333" stroke-width="6.5"/>
<line x1="2091.98" y1="3358.4" x2="3600.92" y2="3358.4" stroke="#333333" stroke-width="6.7"/>
<g fill="#00a0e9" stroke="#000" stroke-width="6.1"><circle cx="2846.5" cy="2008.5" r="30.9"/><circle cx="3119.5" cy="2024.8" r="30.9"/><circle cx="2710" cy="2256.9" r="30.9"/><circle cx="3256" cy="2287.3" r="30.9"/><circle cx="3392.5" cy="2319.1" r="30.9"/><circle cx="3119.5" cy="2326" r="30.9"/><circle cx="3119.5" cy="2329.3" r="30.9"/><circle cx="2846.5" cy="2394.8" r="30.9"/><circle cx="2778.25" cy="2473.1" r="30.9"/><circle cx="2573.5" cy="2339.3" r="30.9"/><circle cx="2641.75" cy="2584.2" r="30.9"/><circle cx="2573.5" cy="2703.4" r="30.9"/><circle cx="2573.5" cy="2777.5" r="30.9"/><circle cx="2710" cy="2734.6" r="30.9"/><circle cx="2505.25" cy="2875.4" r="30.9"/><circle cx="2641.75" cy="2936" r="30.9"/><circle cx="2641.75" cy="2912.7" r="30.9"/><circle cx="2368.75" cy="2962.6" r="30.9"/></g>
<path d="M2368.9 2618.63 L2382.43 2613.37 L2395.96 2608.06 L2409.49 2602.7 L2423.02 2597.29 L2436.55 2591.83 L2450.08 2586.3 L2463.61 2580.71 L2477.14 2575.05 L2490.67 2569.32 L2504.2 2563.5 L2517.73 2557.6 L2531.27 2551.6 L2544.8 2545.5 L2558.33 2539.3 L2571.86 2532.98 L2585.39 2526.53 L2598.92 2519.95 L2612.45 2513.23 L2625.98 2506.35 L2639.51 2499.31 L2653.04 2492.1 L2666.57 2484.69 L2680.1 2477.09 L2693.63 2469.28 L2707.16 2461.25 L2720.69 2452.98 L2734.22 2444.48 L2747.75 2435.72 L2761.28 2426.71 L2774.81 2417.44 L2788.34 2407.9 L2801.87 2398.08 L2815.4 2388 L2828.93 2377.64 L2842.47 2367.02 L2856 2356.13 L2869.53 2344.99 L2883.06 2333.6 L2896.59 2321.97 L2910.12 2310.11 L2923.65 2298.03 L2937.18 2285.74 L2950.71 2273.26 L2964.24 2260.59 L2977.77 2247.75 L2991.3 2234.74 L3004.83 2221.58 L3018.36 2208.28 L3031.89 2194.84 L3045.42 2181.28 L3058.95 2167.61 L3072.48 2153.83 L3086.01 2139.95 L3099.54 2125.98 L3113.07 2111.92 L3126.6 2097.78 L3140.13 2083.57 L3153.67 2069.29 L3167.2 2054.95 L3180.73 2040.54 L3194.26 2026.08 L3207.79 2011.57 L3221.32 1997 L3234.85 1982.4 L3248.38 1967.74 L3261.91 1953.05 L3275.44 1938.33 L3288.97 1923.56 L3302.5 1908.77 L3302.5 2381.42 L3288.97 2386.49 L3275.44 2391.59 L3261.91 2396.73 L3248.38 2401.9 L3234.85 2407.11 L3221.32 2412.37 L3207.79 2417.67 L3194.26 2423.02 L3180.73 2428.42 L3167.2 2433.88 L3153.67 2439.4 L3140.13 2444.98 L3126.6 2450.63 L3113.07 2456.36 L3099.54 2462.16 L3086.01 2468.05 L3072.48 2474.04 L3058.95 2480.12 L3045.42 2486.31 L3031.89 2492.62 L3018.36 2499.04 L3004.83 2505.61 L2991.3 2512.31 L2977.77 2519.17 L2964.24 2526.19 L2950.71 2533.38 L2937.18 2540.76 L2923.65 2548.33 L2910.12 2556.12 L2896.59 2564.12 L2883.06 2572.35 L2869.53 2580.83 L2856 2589.55 L2842.47 2598.53 L2828.93 2607.77 L2815.4 2617.27 L2801.87 2627.05 L2788.34 2637.1 L2774.81 2647.42 L2761.28 2658.01 L2747.75 2668.86 L2734.22 2679.97 L2720.69 2691.33 L2707.16 2702.93 L2693.63 2714.76 L2680.1 2726.81 L2666.57 2739.08 L2653.04 2751.54 L2639.51 2764.18 L2625.98 2777 L2612.45 2789.99 L2598.92 2803.13 L2585.39 2816.41 L2571.86 2829.83 L2558.33 2843.37 L2544.8 2857.03 L2531.27 2870.8 L2517.73 2884.67 L2504.2 2898.63 L2490.67 2912.67 L2477.14 2926.8 L2463.61 2941 L2450.08 2955.28 L2436.55 2969.61 L2423.02 2984.01 L2409.49 2998.47 L2395.96 3012.97 L2382.43 3027.53 L2368.9 3042.13Z" fill="#999999"/>
<clipPath id="cD"><path d="M2368.9 2618.63 L2382.43 2613.37 L2395.96 2608.06 L2409.49 2602.7 L2423.02 2597.29 L2436.55 2591.83 L2450.08 2586.3 L2463.61 2580.71 L2477.14 2575.05 L2490.67 2569.32 L2504.2 2563.5 L2517.73 2557.6 L2531.27 2551.6 L2544.8 2545.5 L2558.33 2539.3 L2571.86 2532.98 L2585.39 2526.53 L2598.92 2519.95 L2612.45 2513.23 L2625.98 2506.35 L2639.51 2499.31 L2653.04 2492.1 L2666.57 2484.69 L2680.1 2477.09 L2693.63 2469.28 L2707.16 2461.25 L2720.69 2452.98 L2734.22 2444.48 L2747.75 2435.72 L2761.28 2426.71 L2774.81 2417.44 L2788.34 2407.9 L2801.87 2398.08 L2815.4 2388 L2828.93 2377.64 L2842.47 2367.02 L2856 2356.13 L2869.53 2344.99 L2883.06 2333.6 L2896.59 2321.97 L2910.12 2310.11 L2923.65 2298.03 L2937.18 2285.74 L2950.71 2273.26 L2964.24 2260.59 L2977.77 2247.75 L2991.3 2234.74 L3004.83 2221.58 L3018.36 2208.28 L3031.89 2194.84 L3045.42 2181.28 L3058.95 2167.61 L3072.48 2153.83 L3086.01 2139.95 L3099.54 2125.98 L3113.07 2111.92 L3126.6 2097.78 L3140.13 2083.57 L3153.67 2069.29 L3167.2 2054.95 L3180.73 2040.54 L3194.26 2026.08 L3207.79 2011.57 L3221.32 1997 L3234.85 1982.4 L3248.38 1967.74 L3261.91 1953.05 L3275.44 1938.33 L3288.97 1923.56 L3302.5 1908.77 L3302.5 2381.42 L3288.97 2386.49 L3275.44 2391.59 L3261.91 2396.73 L3248.38 2401.9 L3234.85 2407.11 L3221.32 2412.37 L3207.79 2417.67 L3194.26 2423.02 L3180.73 2428.42 L3167.2 2433.88 L3153.67 2439.4 L3140.13 2444.98 L3126.6 2450.63 L3113.07 2456.36 L3099.54 2462.16 L3086.01 2468.05 L3072.48 2474.04 L3058.95 2480.12 L3045.42 2486.31 L3031.89 2492.62 L3018.36 2499.04 L3004.83 2505.61 L2991.3 2512.31 L2977.77 2519.17 L2964.24 2526.19 L2950.71 2533.38 L2937.18 2540.76 L2923.65 2548.33 L2910.12 2556.12 L2896.59 2564.12 L2883.06 2572.35 L2869.53 2580.83 L2856 2589.55 L2842.47 2598.53 L2828.93 2607.77 L2815.4 2617.27 L2801.87 2627.05 L2788.34 2637.1 L2774.81 2647.42 L2761.28 2658.01 L2747.75 2668.86 L2734.22 2679.97 L2720.69 2691.33 L2707.16 2702.93 L2693.63 2714.76 L2680.1 2726.81 L2666.57 2739.08 L2653.04 2751.54 L2639.51 2764.18 L2625.98 2777 L2612.45 2789.99 L2598.92 2803.13 L2585.39 2816.41 L2571.86 2829.83 L2558.33 2843.37 L2544.8 2857.03 L2531.27 2870.8 L2517.73 2884.67 L2504.2 2898.63 L2490.67 2912.67 L2477.14 2926.8 L2463.61 2941 L2450.08 2955.28 L2436.55 2969.61 L2423.02 2984.01 L2409.49 2998.47 L2395.96 3012.97 L2382.43 3027.53 L2368.9 3042.13Z"/></clipPath>
<g clip-path="url(#cD)" fill="#3d9ecb" stroke="#3e3d3d" stroke-width="6.1"><circle cx="2846.5" cy="2008.5" r="30.9"/><circle cx="3119.5" cy="2024.8" r="30.9"/><circle cx="2710" cy="2256.9" r="30.9"/><circle cx="3256" cy="2287.3" r="30.9"/><circle cx="3392.5" cy="2319.1" r="30.9"/><circle cx="3119.5" cy="2326" r="30.9"/><circle cx="3119.5" cy="2329.3" r="30.9"/><circle cx="2846.5" cy="2394.8" r="30.9"/><circle cx="2778.25" cy="2473.1" r="30.9"/><circle cx="2573.5" cy="2339.3" r="30.9"/><circle cx="2641.75" cy="2584.2" r="30.9"/><circle cx="2573.5" cy="2703.4" r="30.9"/><circle cx="2573.5" cy="2777.5" r="30.9"/><circle cx="2710" cy="2734.6" r="30.9"/><circle cx="2505.25" cy="2875.4" r="30.9"/><circle cx="2641.75" cy="2936" r="30.9"/><circle cx="2641.75" cy="2912.7" r="30.9"/><circle cx="2368.75" cy="2962.6" r="30.9"/></g>
<line x1="2368.6" y1="2830.6" x2="3393.5" y2="2078.3" stroke="#000" stroke-width="9.4"/>
<text transform="translate(0 145.6) scale(1 1.03)" x="367.6" y="0" font-size="100" fill="#322b29">A</text>
<text x="334.3 439.82" y="145.6" font-size="100" fill="#322b29">()</text>
<text transform="translate(0 146.4) scale(1 1.03)" x="2192.6" y="0" font-size="100" fill="#322b29">B</text>
<text x="2159.3 2264.82" y="146.4" font-size="100" fill="#322b29">()</text>
<text transform="translate(0 1974.6) scale(1 1.03)" x="368.6" y="0" font-size="100" fill="#322b29">C</text>
<text x="335.3 440.82" y="1974.6" font-size="100" fill="#322b29">()</text>
<text transform="translate(0 1974.9) scale(1 1.03)" x="2192.6" y="0" font-size="100" fill="#322b29">D</text>
<text x="2159.3 2264.82" y="1974.9" font-size="100" fill="#322b29">()</text>
<text transform="translate(0 231.6) scale(1 1.03)" x="555.2" y="0" font-size="91" font-style="italic" fill="#322b29">R</text>
<text transform="translate(0 186.3) scale(1 1.03)" x="620.4" y="0" font-size="45" fill="#322b29">2</text>
<text x="657.9" y="231.6" font-size="91" fill="#322b29">=</text>
<text transform="translate(0 231.6) scale(1 1.03)" x="737.54 813.43 864.04" y="0" font-size="91" fill="#322b29">022</text>
<text x="788.15" y="231.6" font-size="91" fill="#322b29">.</text>
<text transform="translate(0 345.8) scale(1 1.03)" x="555.2" y="0" font-size="91" font-style="italic" fill="#9fa0a0">R</text>
<text transform="translate(0 300.5) scale(1 1.03)" x="620.4" y="0" font-size="45" fill="#9fa0a0">2</text>
<text x="657.9" y="345.8" font-size="91" fill="#9fa0a0">=</text>
<text transform="translate(0 345.8) scale(1 1.03)" x="737.54 813.43 864.04" y="0" font-size="91" fill="#9fa0a0">044</text>
<text x="788.15" y="345.8" font-size="91" fill="#9fa0a0">.</text>
<text transform="translate(0 1096.3) scale(1 1.03)" x="2440.9" y="0" font-size="91" font-style="italic" fill="#322b29">R</text>
<text transform="translate(0 1051) scale(1 1.03)" x="2506.1" y="0" font-size="45" fill="#322b29">2</text>
<text x="2543.6" y="1096.3" font-size="91" fill="#322b29">=</text>
<path transform="translate(2699.13 1096.3) scale(0.04443 -0.04443)" d="M802 0H521V1059Q367 915 158 846V1101Q268 1137 397 1237Q526 1338 574 1472H802Z" fill="#322b29"/>
<text transform="translate(0 1096.3) scale(1 1.03)" x="2623.24 2749.74" y="0" font-size="91" fill="#322b29">05</text>
<text x="2673.85" y="1096.3" font-size="91" fill="#322b29">.</text>
<text transform="translate(0 2135.8) scale(1 1.03)" x="1205.4" y="0" font-size="91" font-style="italic" fill="#322b29">R</text>
<text transform="translate(0 2090.5) scale(1 1.03)" x="1270.6" y="0" font-size="45" fill="#322b29">2</text>
<text x="1308.1" y="2135.8" font-size="91" fill="#322b29">=</text>
<text transform="translate(0 2135.8) scale(1 1.03)" x="1387.74 1463.63 1514.24" y="0" font-size="91" fill="#322b29">033</text>
<text x="1438.35" y="2135.8" font-size="91" fill="#322b29">.</text>
<text transform="translate(0 2761.6) scale(1 1.03)" x="2995.3" y="0" font-size="91" font-style="italic" fill="#322b29">R</text>
<text transform="translate(0 2716.3) scale(1 1.03)" x="3060.5" y="0" font-size="45" fill="#322b29">2</text>
<text x="3098" y="2761.6" font-size="91" fill="#322b29">=</text>
<text transform="translate(0 2761.6) scale(1 1.03)" x="3177.64 3253.53 3304.14" y="0" font-size="91" fill="#322b29">047</text>
<text x="3228.25" y="2761.6" font-size="91" fill="#322b29">.</text>
<path transform="translate(1608.6 1363.4) scale(0.04883 -0.04883)" d="M802 0H521V1059Q367 915 158 846V1101Q268 1137 397 1237Q526 1338 574 1472H802Z" fill="#322b29"/>
<text transform="translate(0 1363.4) scale(1 1.03)" x="1308.5" y="0" font-size="100" fill="#322b29">S</text>
<text x="1375.2 1408.5 1464.12 1525.2" y="1363.4" font-size="100" fill="#322b29">tage</text>
<text transform="translate(0 1346.9) scale(1 1.03)" x="2671.3 2971.4" y="0" font-size="100" fill="#322b29">S2</text>
<text x="2738 2771.3 2826.92 2888" y="1346.9" font-size="100" fill="#322b29">tage</text>
<text transform="translate(0 3193.7) scale(1 1.03)" x="847.2 1147.3" y="0" font-size="100" fill="#322b29">S2</text>
<text x="913.9 947.2 1002.82 1063.9" y="3193.7" font-size="100" fill="#322b29">tage</text>
<text transform="translate(0 3176.6) scale(1 1.03)" x="2670.3 2970.4" y="0" font-size="100" fill="#322b29">S3</text>
<text x="2737 2770.3 2825.92 2887" y="3176.6" font-size="100" fill="#322b29">tage</text>
<text x="777.6" y="1741.8" font-size="91" fill="#322b29">δ</text>
<path transform="translate(838.3 1695.8) scale(0.02197 -0.02197)" d="M802 0H521V1059Q367 915 158 846V1101Q268 1137 397 1237Q526 1338 574 1472H802Z" fill="#322b29"/>
<text transform="translate(0 1695.8) scale(1 1.03)" x="868.73" y="0" font-size="45" fill="#322b29">3</text>
<text transform="translate(0 1741.8) scale(1 1.03)" x="899" y="0" font-size="91" fill="#322b29">C</text>
<text x="970 1000.73 1031.45 1054.67" y="1759.1" font-size="45" fill="#322b29">carb</text>
<text x="1107.5" y="1741.8" font-size="91" fill="#322b29">(</text>
<text transform="translate(0 1741.8) scale(1 1.03)" x="1142.2" y="0" font-size="91" fill="#322b29">‰</text>
<text x="1241.2" y="1741.8" font-size="91" fill="#322b29">)</text>
<text x="2600.3" y="1735.5" font-size="91" fill="#322b29">δ</text>
<path transform="translate(2661 1689.5) scale(0.02197 -0.02197)" d="M802 0H521V1059Q367 915 158 846V1101Q268 1137 397 1237Q526 1338 574 1472H802Z" fill="#322b29"/>
<text transform="translate(0 1689.5) scale(1 1.03)" x="2691.43" y="0" font-size="45" fill="#322b29">3</text>
<text transform="translate(0 1735.5) scale(1 1.03)" x="2721.7" y="0" font-size="91" fill="#322b29">C</text>
<text x="2792.7 2823.43 2854.15 2877.37" y="1752.8" font-size="45" fill="#322b29">carb</text>
<text x="2930.2" y="1735.5" font-size="91" fill="#322b29">(</text>
<text transform="translate(0 1735.5) scale(1 1.03)" x="2964.9" y="0" font-size="91" fill="#322b29">‰</text>
<text x="3063.9" y="1735.5" font-size="91" fill="#322b29">)</text>
<text x="791.3" y="3570.8" font-size="91" fill="#322b29">δ</text>
<path transform="translate(852 3524.8) scale(0.02197 -0.02197)" d="M802 0H521V1059Q367 915 158 846V1101Q268 1137 397 1237Q526 1338 574 1472H802Z" fill="#322b29"/>
<text transform="translate(0 3524.8) scale(1 1.03)" x="882.43" y="0" font-size="45" fill="#322b29">3</text>
<text transform="translate(0 3570.8) scale(1 1.03)" x="912.7" y="0" font-size="91" fill="#322b29">C</text>
<text x="983.7 1016.89 1040.1" y="3588.1" font-size="45" fill="#322b29">org</text>
<text x="1093.5" y="3570.8" font-size="91" fill="#322b29">(</text>
<text transform="translate(0 3570.8) scale(1 1.03)" x="1128.2" y="0" font-size="91" fill="#322b29">‰</text>
<text x="1227.2" y="3570.8" font-size="91" fill="#322b29">)</text>
<text x="2600.3" y="3564.6" font-size="91" fill="#322b29">δ</text>
<path transform="translate(2661 3518.6) scale(0.02197 -0.02197)" d="M802 0H521V1059Q367 915 158 846V1101Q268 1137 397 1237Q526 1338 574 1472H802Z" fill="#322b29"/>
<text transform="translate(0 3518.6) scale(1 1.03)" x="2691.43" y="0" font-size="45" fill="#322b29">3</text>
<text transform="translate(0 3564.6) scale(1 1.03)" x="2721.7" y="0" font-size="91" fill="#322b29">C</text>
<text x="2792.7 2823.43 2854.15 2877.37" y="3581.9" font-size="45" fill="#322b29">carb</text>
<text x="2930.2" y="3564.6" font-size="91" fill="#322b29">(</text>
<text transform="translate(0 3564.6) scale(1 1.03)" x="2964.9" y="0" font-size="91" fill="#322b29">‰</text>
<text x="3063.9" y="3564.6" font-size="91" fill="#322b29">)</text>
<g transform="translate(89 1048.2) rotate(-90)">
<text x="-3.8" y="0" font-size="91" fill="#322b29">δ</text>
<path transform="translate(54 -48) scale(0.02197 -0.02197)" d="M802 0H521V1059Q367 915 158 846V1101Q268 1137 397 1237Q526 1338 574 1472H802Z" fill="#322b29"/>
<text transform="translate(0 -48) scale(1 1.03)" x="84.43 114.85" y="0" font-size="45" fill="#322b29">38</text>
<text transform="translate(0 0) scale(1 1.03)" x="144.6" y="0" font-size="91" fill="#322b29">B</text>
<text x="219.1" y="0" font-size="91" fill="#322b29">a</text>
<text x="275.2 304.73 334.25 356.27" y="16.8" font-size="45" fill="#322b29">carb</text>
<text x="408.1" y="0" font-size="91" fill="#322b29">(</text>
<text transform="translate(0 0) scale(1 1.03)" x="442.7" y="0" font-size="91" fill="#322b29">‰</text>
<text x="544.1" y="0" font-size="91" fill="#322b29">)</text>
</g>
<g transform="translate(1909 1048.2) rotate(-90)">
<text x="-3.8" y="0" font-size="91" fill="#322b29">δ</text>
<path transform="translate(54 -48) scale(0.02197 -0.02197)" d="M802 0H521V1059Q367 915 158 846V1101Q268 1137 397 1237Q526 1338 574 1472H802Z" fill="#322b29"/>
<text transform="translate(0 -48) scale(1 1.03)" x="84.43 114.85" y="0" font-size="45" fill="#322b29">38</text>
<text transform="translate(0 0) scale(1 1.03)" x="144.6" y="0" font-size="91" fill="#322b29">B</text>
<text x="219.1" y="0" font-size="91" fill="#322b29">a</text>
<text x="275.2 304.73 334.25 356.27" y="16.8" font-size="45" fill="#322b29">carb</text>
<text x="408.1" y="0" font-size="91" fill="#322b29">(</text>
<text transform="translate(0 0) scale(1 1.03)" x="442.7" y="0" font-size="91" fill="#322b29">‰</text>
<text x="544.1" y="0" font-size="91" fill="#322b29">)</text>
</g>
<g transform="translate(78.7 2876.7) rotate(-90)">
<text x="-3.8" y="0" font-size="91" fill="#322b29">δ</text>
<path transform="translate(54 -48) scale(0.02197 -0.02197)" d="M802 0H521V1059Q367 915 158 846V1101Q268 1137 397 1237Q526 1338 574 1472H802Z" fill="#322b29"/>
<text transform="translate(0 -48) scale(1 1.03)" x="84.43 114.85" y="0" font-size="45" fill="#322b29">38</text>
<text transform="translate(0 0) scale(1 1.03)" x="144.6" y="0" font-size="91" fill="#322b29">B</text>
<text x="219.1" y="0" font-size="91" fill="#322b29">a</text>
<text x="275.2 304.73 334.25 356.27" y="16.8" font-size="45" fill="#322b29">carb</text>
<text x="408.1" y="0" font-size="91" fill="#322b29">(</text>
<text transform="translate(0 0) scale(1 1.03)" x="442.7" y="0" font-size="91" fill="#322b29">‰</text>
<text x="544.1" y="0" font-size="91" fill="#322b29">)</text>
</g>
<g transform="translate(1898.7 2876.7) rotate(-90)">
<text x="-3.8" y="0" font-size="91" fill="#322b29">δ</text>
<path transform="translate(54 -48) scale(0.02197 -0.02197)" d="M802 0H521V1059Q367 915 158 846V1101Q268 1137 397 1237Q526 1338 574 1472H802Z" fill="#322b29"/>
<text transform="translate(0 -48) scale(1 1.03)" x="84.43 114.85" y="0" font-size="45" fill="#322b29">38</text>
<text transform="translate(0 0) scale(1 1.03)" x="144.6" y="0" font-size="91" fill="#322b29">B</text>
<text x="219.1" y="0" font-size="91" fill="#322b29">a</text>
<text x="275.2 304.73 334.25 356.27" y="16.8" font-size="45" fill="#322b29">carb</text>
<text x="408.1" y="0" font-size="91" fill="#322b29">(</text>
<text transform="translate(0 0) scale(1 1.03)" x="442.7" y="0" font-size="91" fill="#322b29">‰</text>
<text x="544.1" y="0" font-size="91" fill="#322b29">)</text>
</g>
</svg>
</body></html>
